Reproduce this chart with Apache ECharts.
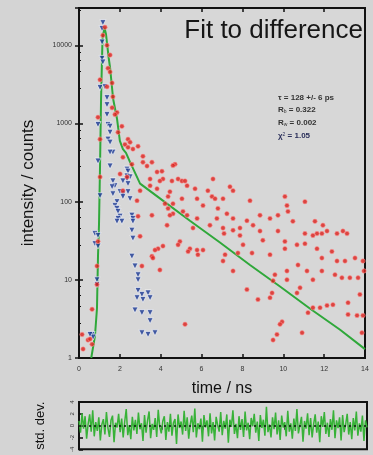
<!DOCTYPE html>
<html>
<head>
<meta charset="utf-8">
<script src="https://cdn.jsdelivr.net/npm/echarts/dist/echarts.min.js"></script>
<style>html,body{margin:0;padding:0;background:#d4d4d4}#main{width:373px;height:455px}</style>
</head>
<body>
<div id="main"></div>
<script>
// measured data (time in ns, counts)
var redT = [1.27,1.17,1.37,1.52,1.42,1.52,1.03,1.62,1.37,1.66,1.62,1.86,1.76,0.93,2.10,1.91,1.03,2.40,2.50,2.25,
  2.40,2.89,2.64,3.13,2.15,2.59,3.13,3.57,3.33,4.70,4.60,4.06,3.82,2.01,1.03,2.35,4.11,4.85,3.48,6.56,
  5.04,3.96,4.55,5.19,3.48,5.29,7.39,3.82,5.68,2.15,2.99,4.45,7.54,6.31,4.36,6.51,10.08,2.84,5.78,5.04,
  7.05,6.66,8.37,11.06,4.21,4.60,6.07,10.18,4.36,6.80,5.09,10.23,4.60,7.24,3.57,4.45,5.29,8.86,9.74,2.89,
  6.75,7.54,9.35,5.78,8.22,10.47,11.55,6.41,8.52,11.94,4.31,7.05,7.88,5.58,7.54,12.14,8.86,9.74,12.92,7.10,
  11.06,11.65,11.89,12.63,13.12,7.88,11.45,2.99,9.00,10.08,11.06,4.94,8.03,10.67,4.85,4.11,3.87,10.08,11.65,5.43,
  3.72,5.78,6.07,5.34,12.38,7.78,8.47,7.15,9.35,5.82,3.57,3.62,11.89,13.51,7.05,12.63,13.02,13.90,10.72,3.08,
  7.54,11.16,10.18,11.89,13.95,3.96,12.53,9.59,12.87,13.26,13.66,11.45,10.18,9.50,10.82,8.22,9.45,10.67,13.75,9.35,
  8.76,13.17,12.43,12.14,11.45,11.80,11.21,13.61,13.90,13.17,9.94,5.19,9.84,10.92,13.85,9.69,9.50,0.88,0.64,0.15,
  0.44,0.64,0.20,0.54,0.93,0.88];
var redV = [17000,13400,10000,7500,5100,4570,3630,3300,2950,2200,1590,1380,1300,1200,920,770,630,630,576,540,
  495,510,470,380,370,300,320,320,285,300,290,245,240,226,207,207,195,195,195,195,
  184,184,184,184,160,160,155,146,146,138,138,134,138,138,116,116,116,103,109,109,
  109,109,103,100,94,94,89,89,82,82,75,75,70,70,67,67,67,67,67,65,
  61,61,61,61,57,56,56,50,50,50,50,46,46,46,43,42,42,42,42,39,
  39,39,39,39,39,37,37,36,32,31,29,31,28,28,28,27,25,25,25,25,
  24,24,24,23,23,22,22,21,21,21,20,19,19,19,17.4,17.4,17.4,17.4,15.5,15,
  13,13,13,13,13,13.4,11.6,11.6,10.6,10.6,10.6,10,10,9.7,7.9,7.5,6.8,6.8,6.5,5.9,
  5.6,5.1,4.8,4.7,4.4,4.4,3.8,3.5,3.5,3.6,2.9,2.7,2.7,2.1,2.1,2.0,1.7,8.7,4.2,2.0,
  1.7,1.5,1.3,1.75,31,15];

var blueT = [1.17,1.13,1.13,1.13,1.17,1.03,1.27,1.37,1.37,1.37,0.93,1.42,1.52,1.52,1.42,1.52,1.66,1.52,0.93,1.52,
  2.35,2.40,2.35,2.50,2.35,2.15,1.66,2.40,1.76,1.62,2.01,2.40,1.66,2.15,1.03,2.15,2.50,1.86,1.76,1.86,
  1.91,2.59,2.01,1.91,2.64,2.10,2.64,1.86,2.59,0.78,0.93,2.64,0.78,0.93,2.59,2.74,2.89,2.89,0.88,0.88,
  2.89,3.08,3.38,2.84,3.13,3.48,2.74,3.08,3.48,3.48,0.64,0.69,0.54,3.08,3.38,3.72];
var blueV = [19500,16400,11000,6800,6100,2880,2950,2140,1740,1300,970,970,920,770,630,576,430,430,330,285,
  260,245,213,207,195,184,184,170,160,155,134,134,126,126,119,116,109,100,89,82,
  75,67,65,61,61,56,56,56,43,39,37,34,29,27,20,15,11.6,10,10,8.7,
  7.3,6.5,6.8,5.9,5.6,5.9,4.1,3.8,3.8,3.0,2.0,1.85,2.0,2.1,2.0,2.1];

var fitT = [0.60,0.78,0.88,0.93,0.98,1.03,1.08,1.15,1.24,1.32,1.45,1.52,1.67,1.86,2.00,2.15,2.30,2.50,2.99,3.96,
  5.43,6.90,8.37,9.84,11.30,12.78,14.00];
var fitV = [1.0,1.9,4.3,20,52,290,2070,12000,17000,14000,7000,5200,2070,1150,600,470,420,320,170,110,
  57,30,15.5,8.2,4.3,2.3,1.3];

// weighted residuals (std. dev.), evenly spaced over 0-14 ns
var resid = [0.8,-1.2,2.1,-0.5,1.6,-2.2,0.3,1.9,-1.0,2.6,-1.8,0.6,-0.9,1.4,-2.5,0.2,1.1,-1.5,2.3,-0.4,
  -1.9,0.9,1.7,-2.8,0.5,-0.3,2.0,-1.1,1.2,-2.0,0.7,2.8,-1.6,0.1,-2.3,1.5,-0.8,1.0,-1.4,2.2,
  -0.6,0.4,-2.6,1.8,-1.2,0.9,2.4,-2.1,0.3,-0.7,1.3,-1.9,2.7,-0.2,-1.3,0.8,1.6,-2.4,0.6,-1.0,
  2.0,-1.7,0.5,1.1,-3.1,1.9,-0.4,0.7,-1.5,2.5,-0.9,1.4,-2.2,0.2,1.7,-1.1,2.9,-2.0,0.4,-0.6,
  1.2,-2.7,1.8,-0.3,0.9,-1.8,2.1,-1.3,0.6,-2.5,1.5,0.1,-1.0,2.3,-1.6,0.8,-0.5,1.9,-2.9,1.0,
  -0.2,2.6,-1.4,0.3,-2.1,1.6,-0.7,1.1,-1.9,2.4,-0.8,0.5,-2.3,1.3,-0.1,2.0,-1.2,0.7,-2.6,1.8,
  -0.4,1.0,-1.7,3.2,-1.1,0.2,-2.0,1.4,-0.6,2.2,-1.5,0.9,-2.4,1.7,-0.3,0.6,-1.8,2.5,-1.0,0.4,
  -2.2,1.2,-0.9,2.8,-1.3,0.1,1.5,-2.7,0.8,-0.5,2.1,-1.6,1.3,-2.0,0.3,1.9,-1.2,0.7,-2.8,1.6,
  -0.2,2.3,-1.4,0.5,-1.9,1.1,-0.7,2.6,-2.1,0.9,-0.4,1.4,-2.5,1.8,-1.1,0.2,2.0,-1.5,0.6,-2.3,
  1.3,-0.8,2.4,-1.7,0.4,-1.0,1.7,-2.6,0.9,-0.3];

function pairs(xs, ys) { return xs.map(function (x, i) { return [x, ys[i]]; }); }
var residData = resid.map(function (r, i) { return [i * 14 / (resid.length - 1), r]; });

var tick = {inside: true, length: 4, lineStyle: {color: '#111', width: 1.5}};
var font = 'Liberation Sans';

var myChart = echarts.init(document.getElementById('main'));
myChart.setOption({
  animation: false,
  backgroundColor: '#d4d4d4',
  textStyle: {fontFamily: font},
  grid: [
    {left: 79, top: 8, right: 8, height: 350, show: true, borderColor: '#111', borderWidth: 2, backgroundColor: '#d7d7d7'},
    {left: 79, top: 402, right: 6, height: 50, show: true, borderColor: '#111', borderWidth: 2, backgroundColor: '#d7d7d7'}
  ],
  xAxis: [
    {gridIndex: 0, type: 'value', min: 0, max: 14, interval: 2, name: 'time / ns', nameLocation: 'middle', nameGap: 23,
      nameTextStyle: {fontSize: 16, color: '#111', fontFamily: font},
      axisLine: {show: false}, axisTick: tick, splitLine: {show: false},
      axisLabel: {fontSize: 7, color: '#333', margin: 8}},
    {gridIndex: 0, type: 'value', min: 0, max: 14, interval: 2, position: 'top',
      axisLine: {show: false}, axisTick: tick, axisLabel: {show: false}, splitLine: {show: false}},
    {gridIndex: 1, type: 'value', min: 0, max: 14, interval: 2, position: 'top',
      axisLine: {show: false}, axisTick: tick, axisLabel: {show: false}, splitLine: {show: false}}
  ],
  yAxis: [
    {gridIndex: 0, type: 'log', min: 1, max: 30000, name: 'intensity / counts', nameLocation: 'middle', nameGap: 42,
      nameTextStyle: {fontSize: 17, color: '#111', fontFamily: font},
      axisLine: {show: false}, axisTick: tick, minorTick: {show: true, splitNumber: 5, length: 2, lineStyle: {color: '#111'}},
      splitLine: {show: false},
      axisLabel: {fontSize: 7, color: '#333', margin: 7, showMaxLabel: false,
        formatter: function (v) { return String(Math.round(v)); }}},
    {gridIndex: 0, type: 'log', min: 1, max: 30000, position: 'right',
      axisLine: {show: false}, axisTick: tick, axisLabel: {show: false}, splitLine: {show: false}},
    {gridIndex: 1, type: 'value', min: -4, max: 4, interval: 2, name: 'std. dev.', nameLocation: 'middle', nameGap: 32,
      nameTextStyle: {fontSize: 13, color: '#111', fontFamily: font},
      axisLine: {show: false}, axisTick: tick, splitLine: {show: false},
      axisLabel: {fontSize: 6, color: '#333', rotate: 90, margin: 4}}
  ],
  series: [
    {type: 'line', xAxisIndex: 0, yAxisIndex: 0, data: pairs(fitT, fitV), showSymbol: false, z: 3,
      lineStyle: {color: '#2fa83a', width: 2}},
    {type: 'scatter', xAxisIndex: 0, yAxisIndex: 0, data: pairs(blueT, blueV), symbol: 'triangle', symbolRotate: 180,
      symbolSize: 6, z: 4, itemStyle: {color: '#1a3894', borderColor: 'rgba(255,255,255,0.75)', borderWidth: 1}},
    {type: 'scatter', xAxisIndex: 0, yAxisIndex: 0, data: pairs(redT, redV), symbol: 'circle',
      symbolSize: 4.5, z: 5, itemStyle: {color: '#dc1f1a', borderColor: 'rgba(255,150,150,0.7)', borderWidth: 1}},
    {type: 'line', xAxisIndex: 2, yAxisIndex: 2, data: residData, showSymbol: false,
      lineStyle: {color: '#38b238', width: 1.5},
      markLine: {silent: true, symbol: 'none', label: {show: false},
        lineStyle: {color: '#111', type: [2, 3], width: 1.5}, data: [{yAxis: 0}]}}
  ],
  graphic: [
    {type: 'text', right: 10, top: 18, style: {text: 'Fit to difference', fill: '#161616', font: '26px "Liberation Sans", Arial, sans-serif'}},
    {type: 'text', left: 278, top: 94, style: {text: 'τ = 128 +/- 6 ps', fill: '#333', font: 'bold 8px "Liberation Sans", sans-serif'}},
    {type: 'text', left: 278, top: 106, style: {text: '{a|R}{s|b} = 0.322', fill: '#333', font: 'bold 8px "Liberation Sans", sans-serif',
      rich: {a: {fontSize: 8, fontWeight: 'bold'}, s: {fontSize: 5, verticalAlign: 'bottom'}}}},
    {type: 'text', left: 278, top: 119, style: {text: '{a|R}{s|w} = 0.002', fill: '#333', font: 'bold 8px "Liberation Sans", sans-serif',
      rich: {a: {fontSize: 8, fontWeight: 'bold'}, s: {fontSize: 5, verticalAlign: 'bottom'}}}},
    {type: 'text', left: 278, top: 132, style: {text: '{a|χ}{p|2} = 1.05', fill: '#2a2f5a', font: 'bold 8px "Liberation Sans", sans-serif',
      rich: {a: {fontSize: 8, fontWeight: 'bold'}, p: {fontSize: 5, verticalAlign: 'top'}}}}
  ]
});
</script>
</body>
</html>
